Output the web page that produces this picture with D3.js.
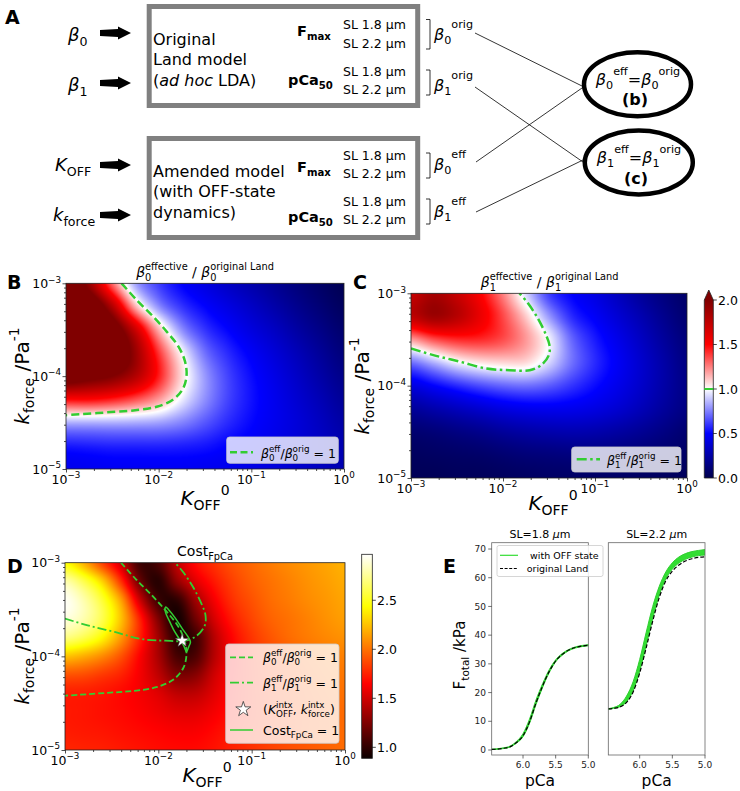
<!DOCTYPE html>
<html><head><meta charset="utf-8">
<script src="https://cdn.jsdelivr.net/npm/d3@7"></script>
<style>
body{margin:0;background:#fff}
svg{display:block}
text{font-family:"DejaVu Sans",sans-serif;white-space:pre}
</style>
</head><body>
<svg id="fig" width="740" height="791"></svg>
<script>
// ---------------- DATA ----------------
// Heatmap grid axes (K_OFF^0 columns, k_force rows from top 1e-3 to bottom 1e-5)
const bcKoff = [0.001, 0.001778, 0.003162, 0.005623, 0.01, 0.01778, 0.03162, 0.05623, 0.1, 0.1778, 0.3162, 0.5623, 1];
const bcKforce = [1e-3, 5.623e-4, 3.162e-4, 1.778e-4, 1e-4, 5.623e-5, 3.162e-5, 1.778e-5, 1e-5];
// B: beta0 effective / beta0 original Land
const beta0Ratio = [
  [2.3, 1.9, 1.3, 0.82, 0.62, 0.5, 0.42, 0.34, 0.27, 0.2, 0.13, 0.07, 0.02],
  [2.5, 2.3, 1.8, 1.15, 0.78, 0.6, 0.5, 0.42, 0.34, 0.26, 0.18, 0.11, 0.05],
  [2.6, 2.5, 2.2, 1.7, 1.15, 0.78, 0.6, 0.5, 0.41, 0.33, 0.24, 0.16, 0.09],
  [2.6, 2.5, 2.3, 1.9, 1.4, 1.0, 0.72, 0.58, 0.48, 0.39, 0.3, 0.21, 0.13],
  [2.2, 2.1, 2.0, 1.8, 1.45, 1.07, 0.8, 0.63, 0.52, 0.43, 0.34, 0.25, 0.17],
  [1.5, 1.5, 1.45, 1.35, 1.2, 0.97, 0.78, 0.63, 0.53, 0.45, 0.37, 0.29, 0.21],
  [0.85, 0.85, 0.85, 0.84, 0.82, 0.76, 0.67, 0.58, 0.51, 0.45, 0.39, 0.32, 0.25],
  [0.55, 0.56, 0.57, 0.57, 0.57, 0.56, 0.54, 0.5, 0.47, 0.43, 0.38, 0.33, 0.28],
  [0.45, 0.46, 0.47, 0.47, 0.47, 0.47, 0.46, 0.45, 0.43, 0.4, 0.36, 0.32, 0.28]
];
// C: beta1 effective / beta1 original Land
const beta1Ratio = [
  [1.72, 1.85, 1.72, 1.52, 1.25, 0.92, 0.62, 0.5, 0.42, 0.32, 0.22, 0.14, 0.08],
  [1.75, 1.88, 1.78, 1.58, 1.36, 1.1, 0.8, 0.58, 0.48, 0.38, 0.28, 0.18, 0.1],
  [1.2, 1.35, 1.42, 1.42, 1.35, 1.2, 0.98, 0.7, 0.55, 0.44, 0.33, 0.22, 0.13],
  [0.72, 0.85, 0.98, 1.05, 1.08, 1.07, 0.92, 0.72, 0.58, 0.47, 0.36, 0.25, 0.15],
  [0.42, 0.5, 0.58, 0.65, 0.7, 0.72, 0.68, 0.6, 0.52, 0.44, 0.35, 0.25, 0.16],
  [0.22, 0.27, 0.32, 0.37, 0.42, 0.45, 0.46, 0.45, 0.42, 0.37, 0.3, 0.22, 0.15],
  [0.1, 0.12, 0.15, 0.18, 0.22, 0.25, 0.27, 0.28, 0.27, 0.24, 0.2, 0.15, 0.1],
  [0.05, 0.06, 0.07, 0.08, 0.1, 0.12, 0.13, 0.14, 0.14, 0.13, 0.11, 0.09, 0.07],
  [0.03, 0.03, 0.04, 0.04, 0.05, 0.06, 0.07, 0.07, 0.07, 0.07, 0.06, 0.05, 0.04]
];
// D: Cost_FpCa grid
const dKoff = [0.001, 0.001585, 0.002512, 0.003981, 0.00631, 0.01, 0.01585, 0.02512, 0.03981, 0.0631, 0.1, 0.1585, 0.2512, 0.3981, 0.631, 1];
const dKforce = [1e-3, 6.31e-4, 3.981e-4, 2.512e-4, 1.585e-4, 1e-4, 6.31e-5, 3.981e-5, 2.512e-5, 1.585e-5, 1e-5];
const costFpCa = [
  [2.45, 2.2, 1.85, 1.5, 1.05, 1.1, 1.45, 1.68, 1.8, 1.9, 1.97, 2.03, 2.08, 2.12, 2.16, 2.2],
  [2.8, 2.6, 2.3, 1.8, 1.2, 0.98, 1.3, 1.55, 1.72, 1.85, 1.94, 2.0, 2.05, 2.1, 2.14, 2.18],
  [2.95, 2.8, 2.55, 2.15, 1.5, 1.05, 1.0, 1.35, 1.62, 1.8, 1.9, 1.98, 2.03, 2.08, 2.12, 2.16],
  [2.9, 2.8, 2.6, 2.25, 1.75, 1.25, 0.92, 1.2, 1.52, 1.73, 1.86, 1.95, 2.0, 2.05, 2.1, 2.14],
  [2.7, 2.6, 2.42, 2.12, 1.75, 1.35, 0.98, 1.05, 1.42, 1.66, 1.81, 1.91, 1.98, 2.03, 2.07, 2.1],
  [2.25, 2.18, 2.07, 1.9, 1.65, 1.38, 1.08, 1.1, 1.42, 1.64, 1.78, 1.87, 1.93, 1.98, 2.02, 2.05],
  [1.9, 1.88, 1.82, 1.75, 1.62, 1.45, 1.25, 1.28, 1.5, 1.66, 1.77, 1.85, 1.9, 1.95, 1.99, 2.02],
  [1.74, 1.73, 1.71, 1.67, 1.62, 1.55, 1.45, 1.45, 1.56, 1.68, 1.77, 1.84, 1.89, 1.93, 1.97, 2.0],
  [1.72, 1.71, 1.69, 1.67, 1.64, 1.6, 1.56, 1.56, 1.62, 1.7, 1.77, 1.83, 1.88, 1.92, 1.95, 1.98],
  [1.73, 1.72, 1.71, 1.69, 1.67, 1.65, 1.63, 1.63, 1.67, 1.73, 1.79, 1.84, 1.88, 1.92, 1.95, 1.98],
  [1.76, 1.75, 1.74, 1.72, 1.7, 1.68, 1.67, 1.67, 1.7, 1.75, 1.8, 1.85, 1.89, 1.92, 1.95, 1.98]
];
// Contours
const beta0Koff = [0.00398, 0.00579, 0.00875, 0.0122, 0.0163, 0.0192, 0.0200, 0.0184, 0.0144, 0.0095, 0.00532, 0.00275, 0.00142, 0.001];
const beta0Kforce = [1e-3, 6.61e-4, 4.37e-4, 3.02e-4, 2.09e-4, 1.45e-4, 1.02e-4, 7.41e-5, 5.62e-5, 4.68e-5, 4.27e-5, 4.07e-5, 3.89e-5, 3.8e-5];
const beta1Koff = [0.001, 0.00175, 0.0034, 0.00661, 0.0118, 0.0195, 0.026, 0.0315, 0.032, 0.0294, 0.0239, 0.0187, 0.0151];
const beta1Kforce = [2.53e-4, 2.14e-4, 1.82e-4, 1.53e-4, 1.47e-4, 1.47e-4, 1.67e-4, 2.14e-4, 2.75e-4, 3.53e-4, 5.36e-4, 7.8e-4, 1e-3];
const costKoff = [0.0120, 0.0129, 0.0152, 0.0179, 0.0207, 0.0221, 0.0212, 0.0200, 0.0187, 0.0166, 0.0146, 0.0132, 0.0122, 0.0118];
const costKforce = [3.37e-4, 3.15e-4, 2.56e-4, 2.0e-4, 1.63e-4, 1.42e-4, 1.27e-4, 1.12e-4, 1.30e-4, 1.56e-4, 1.92e-4, 2.36e-4, 2.78e-4, 3.15e-4];
const starKoff = [0.018];
const starKforce = [1.47e-4];
// Axis ticks
const xMajor = [1e-3, 1e-2, 1e-1, 1];
const xMajorExp = ['\u22123', '\u22122', '\u22121', '0'];
const yMajor = [1e-5, 1e-4, 1e-3];
const yMajorExp = ['\u22125', '\u22124', '\u22123'];
const cbarCTicks = [0, 0.5, 1.0, 1.5, 2.0];
const cbarDTicks = [1.0, 1.5, 2.0, 2.5];
// E: force-pCa
const pCa = [6.48, 6.4, 6.3, 6.2, 6.1, 6.0, 5.9, 5.8, 5.7, 5.6, 5.5, 5.4, 5.3, 5.2, 5.1, 5.0];
const landSL18 = [0.2, 0.3, 0.6, 1.1, 2.6, 5.0, 9.8, 16.5, 22.3, 27.3, 31.0, 33.3, 34.8, 35.7, 36.2, 36.5];
const offHighSL18 = [0.3, 0.4, 0.75, 1.35, 3.0, 5.7, 10.8, 17.5, 23.1, 27.9, 31.4, 33.6, 35.0, 35.9, 36.4, 36.7];
const offLowSL18 = [0.15, 0.25, 0.5, 1.0, 2.4, 4.6, 9.3, 15.9, 21.8, 26.9, 30.7, 33.0, 34.6, 35.5, 36.0, 36.3];
const landSL22 = [14.3, 14.5, 15.0, 16.6, 20.2, 26.8, 35.6, 44.9, 53.1, 58.9, 62.3, 64.4, 65.8, 66.6, 67.1, 67.3];
const offHighSL22 = [14.4, 14.8, 15.9, 18.8, 23.8, 31.5, 41.0, 50.0, 57.0, 62.0, 65.2, 67.2, 68.4, 69.1, 69.5, 69.8];
const offLowSL22 = [14.2, 14.5, 15.1, 16.8, 20.6, 27.4, 36.4, 45.8, 53.9, 59.6, 63.0, 65.1, 66.4, 67.2, 67.7, 67.9];
const eYTicks = [0, 10, 20, 30, 40, 50, 60, 70];
const eXTicks = [6.0, 5.5, 5.0];
const eXTickLabels = ['6.0', '5.5', '5.0'];

// ---------------- HELPERS ----------------
const svg = d3.select('#fig');
svg.append('rect').attr('width', 740).attr('height', 791).attr('fill', '#fff');
const defs = svg.append('defs');
const GREEN = '#32cd32';

function rich(parent, x, y, parts, o = {}) {
  const fs = o.size || 12;
  const subS = (o.sub ?? 0.25) * fs, supS = -(o.sup ?? 0.45) * fs;
  const t = parent.append('text').attr('x', x).attr('y', y)
    .attr('font-size', fs).attr('text-anchor', o.anchor || 'start')
    .attr('fill', o.fill || '#000');
  if (o.weight) t.attr('font-weight', o.weight);
  if (o.rotate) t.attr('transform', `rotate(${o.rotate} ${x} ${y})`);
  let cur = 0, lastSub = null, pending = 0;
  parts.forEach(([txt, fl = '']) => {
    const sub = fl.includes('_'), sup = fl.includes('^');
    const target = sub ? subS : sup ? supS : 0;
    const ts = t.append('tspan').text(txt).attr('dy', target - cur);
    cur = target;
    if (sub || sup) ts.attr('font-size', fs * 0.7);
    if (fl.includes('i')) ts.attr('font-style', 'italic');
    if (fl.includes('b')) ts.attr('font-weight', 'bold');
    let dx = pending; pending = 0;
    if (fl.includes('s') && lastSub) {
      const ls = lastSub.node().getComputedTextLength();
      ts.attr('dx', dx - ls);
      const lp = ts.node().getComputedTextLength();
      if (ls > lp) pending = ls - lp;
    } else if (dx) ts.attr('dx', dx);
    lastSub = sub ? ts : null;
  });
  return t;
}

const seismic = d3.scaleLinear().domain([0, 0.5, 1, 1.5, 2])
  .range(['rgb(0,0,77)', 'rgb(0,0,255)', 'rgb(255,255,255)', 'rgb(255,0,0)', 'rgb(128,0,0)'])
  .clamp(true);
const dMin = 0.888, dMax = 2.969;
const hotStops = [dMin, dMin + 0.365 * (dMax - dMin), dMin + 0.746 * (dMax - dMin), dMax];
const hot = d3.scaleLinear().domain(hotStops)
  .range(['rgb(11,0,0)', 'rgb(255,0,0)', 'rgb(255,255,0)', 'rgb(255,255,255)']).clamp(true);

// Catmull-Rom weights for smooth rendering between grid samples
function cr(p0, p1, p2, p3, t) {
  return 0.5 * ((2 * p1) + (-p0 + p2) * t + (2 * p0 - 5 * p1 + 4 * p2 - p3) * t * t + (-p0 + 3 * p1 - 3 * p2 + p3) * t * t * t);
}
let clipN = 0;
function heat(g, xs, ys, kx, ky, vals, color) {
  const nx = kx.length, ny = ky.length;
  const [x0, x1] = xs.range(); const [yb, yt] = ys.range();
  const W = Math.round(x1 - x0), H = Math.round(yb - yt);
  const cv = document.createElement('canvas'); cv.width = W; cv.height = H;
  const ctx = cv.getContext('2d'); const img = ctx.createImageData(W, H);
  const gx0 = xs(kx[0]), gcw = (xs(kx[nx - 1]) - gx0) / (nx - 1);
  const gy0 = ys(ky[0]), gch = (ys(ky[ny - 1]) - gy0) / (ny - 1);
  const at = (j, i) => vals[Math.max(0, Math.min(ny - 1, j))][Math.max(0, Math.min(nx - 1, i))];
  for (let py = 0; py < H; py++) {
    let v = (yt + py + 0.5 - gy0) / gch; v = Math.max(0, Math.min(ny - 1, v));
    const j = Math.min(ny - 2, Math.floor(v)), tv = v - j;
    for (let px = 0; px < W; px++) {
      let u = (x0 + px + 0.5 - gx0) / gcw; u = Math.max(0, Math.min(nx - 1, u));
      const i = Math.min(nx - 2, Math.floor(u)), tu = u - i;
      const rows = [-1, 0, 1, 2].map(dj => cr(at(j + dj, i - 1), at(j + dj, i), at(j + dj, i + 1), at(j + dj, i + 2), tu));
      const val = cr(rows[0], rows[1], rows[2], rows[3], tv);
      const c = d3.rgb(color(val));
      const k = (py * W + px) * 4;
      img.data[k] = c.r; img.data[k + 1] = c.g; img.data[k + 2] = c.b; img.data[k + 3] = 255;
    }
  }
  ctx.putImageData(img, 0, 0);
  const id = 'clip' + (clipN++);
  defs.append('clipPath').attr('id', id).append('rect')
    .attr('x', x0).attr('y', yt).attr('width', x1 - x0).attr('height', yb - yt);
  g.append('image').attr('href', cv.toDataURL())
    .attr('x', x0).attr('y', yt).attr('width', x1 - x0).attr('height', yb - yt)
    .attr('preserveAspectRatio', 'none');
  return id;
}

function logAxes(g, xs, ys) {
  const [x0, x1] = xs.range(); const [yb, yt] = ys.range();
  const minX = [], minY = [];
  [1e-3, 1e-2, 1e-1].forEach(d => { for (let m = 2; m <= 9; m++) minX.push(d * m); });
  [1e-5, 1e-4].forEach(d => { for (let m = 2; m <= 9; m++) minY.push(d * m); });
  const clean = a => a.call(s => s.select('.domain').remove()).selectAll('line').attr('stroke', '#000').attr('stroke-width', 0.7);
  clean(g.append('g').attr('transform', `translate(0,${yb})`).call(d3.axisBottom(xs).tickValues(minX).tickSize(2).tickFormat('')));
  clean(g.append('g').attr('transform', `translate(0,${yb})`).call(d3.axisBottom(xs).tickValues(xMajor).tickSize(3.5).tickFormat('')));
  clean(g.append('g').attr('transform', `translate(${x0},0)`).call(d3.axisLeft(ys).tickValues(minY).tickSize(2).tickFormat('')));
  clean(g.append('g').attr('transform', `translate(${x0},0)`).call(d3.axisLeft(ys).tickValues(yMajor).tickSize(3.5).tickFormat('')));
  g.append('rect').attr('x', x0).attr('y', yt).attr('width', x1 - x0).attr('height', yb - yt)
    .attr('fill', 'none').attr('stroke', '#222').attr('stroke-width', 0.8);
  xMajor.forEach((v, i) => rich(g, xs(v), yb + 14.5, [['10'], [xMajorExp[i], '^']], { size: 12.5, anchor: 'middle', sup: 0.42 }));
  yMajor.forEach((v, i) => rich(g, x0 - 5, ys(v) + 4.5, [['10'], [yMajorExp[i], '^']], { size: 12.5, anchor: 'end', sup: 0.42 }));
}

function lineOf(xs, ys, kx, ky, curve) {
  return d3.line().x((d, i) => xs(kx[i])).y((d, i) => ys(ky[i])).curve(curve || d3.curveCatmullRom)(kx);
}

const ratioLegend = (n) => [['\u03b2', 'i'], [n, '_'], ['eff', '^s'], ['/'], ['\u03b2', 'i'], [n, '_'], ['orig', '^s'], [' = 1']];
const kLabel = [['k', 'i'], ['force', '_'], [' /Pa'], ['-1', '^']];
const KLabel = [['K', 'i'], ['OFF', '_'], ['0', '^']];

function legendBox(g, x, y, w, h) {
  g.append('rect').attr('x', x).attr('y', y).attr('width', w).attr('height', h).attr('rx', 3)
    .attr('fill', '#fff').attr('fill-opacity', 0.8).attr('stroke', '#ccc').attr('stroke-width', 0.8);
}

// ---------------- PANEL A ----------------
const gA = svg.append('g');
rich(gA, 5, 24, [['A']], { size: 19, weight: 'bold' });
function arrow(y) {
  gA.append('path').attr('d', `M100,${y - 3} L118,${y - 4} L118,${y - 6.5} L131,${y} L118,${y + 6.5} L118,${y + 4} L100,${y + 3} Z`).attr('fill', '#000');
}
rich(gA, 68, 41, [['\u03b2', 'i'], ['0', '_']], { size: 18 }); arrow(33);
rich(gA, 68, 91, [['\u03b2', 'i'], ['1', '_']], { size: 18 }); arrow(83);
rich(gA, 55, 171, [['K', 'i'], ['OFF', '_']], { size: 18 }); arrow(165);
rich(gA, 53, 221, [['k', 'i'], ['force', '_']], { size: 18 }); arrow(215);
[6.5, 138.5].forEach(y => gA.append('rect').attr('x', 149.2).attr('y', y).attr('width', 268.5).attr('height', 99)
  .attr('fill', 'none').attr('stroke', '#808080').attr('stroke-width', 5));
rich(gA, 153, 45, [['Original']], { size: 16 });
rich(gA, 153, 65, [['Land model']], { size: 16 });
rich(gA, 153, 86, [['('], ['ad hoc', 'i'], [' LDA)']], { size: 16 });
rich(gA, 153, 177, [['Amended model']], { size: 16 });
rich(gA, 153, 197, [['(with OFF-state']], { size: 16 });
rich(gA, 153, 218, [['dynamics)']], { size: 16 });
rich(gA, 297, 36, [['F', 'b'], ['max', '_b']], { size: 14.5 });
rich(gA, 288, 85, [['pCa', 'b'], ['50', '_b']], { size: 14.5 });
rich(gA, 297, 172, [['F', 'b'], ['max', '_b']], { size: 14.5 });
rich(gA, 288, 222, [['pCa', 'b'], ['50', '_b']], { size: 14.5 });
[29, 47.5, 76, 94, 160, 178, 206, 224].forEach((y, i) =>
  rich(gA, 343, y, [[i % 2 ? 'SL 2.2 \u00b5m' : 'SL 1.8 \u00b5m']], { size: 12.5 }));
const brackets = [[19.5, 49], [70, 95], [153, 178], [199, 224]];
brackets.forEach(([a, b]) => gA.append('path').attr('d', `M426,${a} H430 V${b} H426`).attr('fill', 'none').attr('stroke', '#000').attr('stroke-width', 0.8));
const brLabels = [['0', 'orig', 40], ['1', 'orig', 91], ['0', 'eff', 170], ['1', 'eff', 217]];
brLabels.forEach(([n, s, y]) => rich(gA, 434, y, [['\u03b2', 'i'], [n, '_'], [s, '^']], { size: 16, sup: 0.72, sub: 0.22 }));
const links = [[475, 33, 582, 86], [475, 87, 583, 162], [476, 162, 582, 88], [476, 212, 583, 160]];
links.forEach(([a, b, c, d]) => gA.append('line').attr('x1', a).attr('y1', b).attr('x2', c).attr('y2', d).attr('stroke', '#000').attr('stroke-width', 0.8));
gA.append('ellipse').attr('cx', 637.5).attr('cy', 84.2).attr('rx', 53.5).attr('ry', 32).attr('fill', '#fff').attr('stroke', '#000').attr('stroke-width', 4.5);
gA.append('ellipse').attr('cx', 638.8).attr('cy', 162.4).attr('rx', 54).attr('ry', 32).attr('fill', '#fff').attr('stroke', '#000').attr('stroke-width', 4.5);
rich(gA, 638, 85, [['\u03b2', 'i'], ['0', '_'], ['eff', '^'], ['='], ['\u03b2', 'i'], ['0', '_'], ['orig', '^']], { size: 16, anchor: 'middle', sup: 0.6, sub: 0.22 });
rich(gA, 635, 105, [['(b)']], { size: 16, anchor: 'middle', weight: 'bold' });
rich(gA, 639, 163, [['\u03b2', 'i'], ['1', '_'], ['eff', '^'], ['='], ['\u03b2', 'i'], ['1', '_'], ['orig', '^']], { size: 16, anchor: 'middle', sup: 0.6, sub: 0.22 });
rich(gA, 636, 184, [['(c)']], { size: 16, anchor: 'middle', weight: 'bold' });

// ---------------- PANEL B ----------------
const gB = svg.append('g');
const xB = d3.scaleLog().domain([1e-3, 1]).range([66, 344]);
const yB = d3.scaleLog().domain([1e-5, 1e-3]).range([469, 283.3]);
const clipB = heat(gB, xB, yB, bcKoff, bcKforce, beta0Ratio, seismic);
gB.append('path').attr('d', lineOf(xB, yB, beta0Koff, beta0Kforce)).attr('clip-path', `url(#${clipB})`)
  .attr('fill', 'none').attr('stroke', GREEN).attr('stroke-width', 2.5).attr('stroke-dasharray', '8,4');
logAxes(gB, xB, yB);
rich(gB, 205, 277, [['\u03b2', 'i'], ['0', '_'], ['effective', '^s'], [' / '], ['\u03b2', 'i'], ['0', '_'], ['original Land', '^s']], { size: 14, anchor: 'middle', sup: 0.5 });
rich(gB, 7, 289, [['B']], { size: 19, weight: 'bold' });
rich(gB, 29, 376, kLabel, { size: 20, anchor: 'middle', rotate: -90, sup: 0.5 });
rich(gB, 205, 505, KLabel, { size: 20, anchor: 'middle', sup: 0.5 });
legendBox(gB, 226.7, 437, 111.6, 26.3);
gB.append('line').attr('x1', 230).attr('x2', 253).attr('y1', 452.3).attr('y2', 452.3).attr('stroke', GREEN).attr('stroke-width', 2.5).attr('stroke-dasharray', '7,3.5');
rich(gB, 261, 458, ratioLegend('0'), { size: 12.5, sup: 0.45 });

// ---------------- PANEL C ----------------
const gC = svg.append('g');
const xC = d3.scaleLog().domain([1e-3, 1]).range([411, 687]);
const yC = d3.scaleLog().domain([1e-5, 1e-3]).range([478, 293.3]);
const clipC = heat(gC, xC, yC, bcKoff, bcKforce, beta1Ratio, seismic);
gC.append('path').attr('d', lineOf(xC, yC, beta1Koff, beta1Kforce)).attr('clip-path', `url(#${clipC})`)
  .attr('fill', 'none').attr('stroke', GREEN).attr('stroke-width', 2.5).attr('stroke-dasharray', '10,3.5,2.5,3.5');
logAxes(gC, xC, yC);
rich(gC, 549.7, 287, [['\u03b2', 'i'], ['1', '_'], ['effective', '^s'], [' / '], ['\u03b2', 'i'], ['1', '_'], ['original Land', '^s']], { size: 14, anchor: 'middle', sup: 0.5 });
rich(gC, 353, 289, [['C']], { size: 19, weight: 'bold' });
rich(gC, 369, 386, kLabel, { size: 20, anchor: 'middle', rotate: -90, sup: 0.5 });
rich(gC, 553, 510, KLabel, { size: 20, anchor: 'middle', sup: 0.5 });
legendBox(gC, 571.7, 447, 109.3, 25);
gC.append('line').attr('x1', 576.7).attr('x2', 600).attr('y1', 459.3).attr('y2', 459.3).attr('stroke', GREEN).attr('stroke-width', 2.5).attr('stroke-dasharray', '10,3.5,2.5,3.5');
rich(gC, 607, 465, ratioLegend('1'), { size: 12.5, sup: 0.45 });
// colorbar C
const cbC = d3.scaleLinear().domain([0, 2]).range([478, 300]);
const gradC = defs.append('linearGradient').attr('id', 'gradC').attr('x1', 0).attr('y1', 1).attr('x2', 0).attr('y2', 0);
seismic.domain().forEach(v => gradC.append('stop').attr('offset', v / 2).attr('stop-color', seismic(v)));
gC.append('rect').attr('x', 704.3).attr('y', cbC(2)).attr('width', 9).attr('height', cbC(0) - cbC(2)).attr('fill', 'url(#gradC)');
gC.append('path').attr('d', `M704.3,${cbC(2)} L708.8,290 L713.3,${cbC(2)} Z`).attr('fill', seismic(2));
gC.append('path').attr('d', `M704.3,${cbC(2)} L708.8,290 L713.3,${cbC(2)} L713.3,${cbC(0)} L704.3,${cbC(0)} Z`).attr('fill', 'none').attr('stroke', '#222').attr('stroke-width', 0.8);
gC.append('line').attr('x1', 704.3).attr('x2', 713.3).attr('y1', cbC(1)).attr('y2', cbC(1)).attr('stroke', GREEN).attr('stroke-width', 2);
cbarCTicks.forEach(v => {
  gC.append('line').attr('x1', 713.3).attr('x2', 716.8).attr('y1', cbC(v)).attr('y2', cbC(v)).attr('stroke', '#000').attr('stroke-width', 0.7);
  rich(gC, 718, cbC(v) + 4.5, [[v.toFixed(1)]], { size: 12.5 });
});

// ---------------- PANEL D ----------------
const gD = svg.append('g');
const xD = d3.scaleLog().domain([1e-3, 1]).range([65, 345]);
const yD = d3.scaleLog().domain([1e-5, 1e-3]).range([750, 562.7]);
const clipD = heat(gD, xD, yD, dKoff, dKforce, costFpCa, hot);
const gDl = gD.append('g').attr('clip-path', `url(#${clipD})`);
gDl.append('path').attr('d', lineOf(xD, yD, beta0Koff, beta0Kforce)).attr('fill', 'none').attr('stroke', GREEN).attr('stroke-width', 1.8).attr('stroke-dasharray', '6,3');
gDl.append('path').attr('d', lineOf(xD, yD, beta1Koff, beta1Kforce)).attr('fill', 'none').attr('stroke', GREEN).attr('stroke-width', 1.8).attr('stroke-dasharray', '9,3,2,3');
gDl.append('path').attr('d', lineOf(xD, yD, costKoff, costKforce, d3.curveCatmullRomClosed)).attr('fill', 'none').attr('stroke', GREEN).attr('stroke-width', 1.5);
const star = d3.symbol().type(d3.symbolStar).size(55);
starKoff.forEach((k, i) => gDl.append('path').attr('d', star()).attr('transform', `translate(${xD(k)},${yD(starKforce[i])})`)
  .attr('fill', '#fff').attr('stroke', '#555').attr('stroke-width', 0.5));
logAxes(gD, xD, yD);
rich(gD, 205, 556, [['Cost'], ['FpCa', '_']], { size: 14, anchor: 'middle' });
rich(gD, 7, 573, [['D']], { size: 19, weight: 'bold' });
rich(gD, 29, 656, kLabel, { size: 20, anchor: 'middle', rotate: -90, sup: 0.5 });
rich(gD, 207, 782, KLabel, { size: 20, anchor: 'middle', sup: 0.5 });
legendBox(gD, 225.7, 644, 113.3, 99.3);
gD.append('line').attr('x1', 230).attr('x2', 253).attr('y1', 657.3).attr('y2', 657.3).attr('stroke', GREEN).attr('stroke-width', 1.8).attr('stroke-dasharray', '6,3');
rich(gD, 263, 662, ratioLegend('0'), { size: 12.5, sup: 0.45 });
gD.append('line').attr('x1', 230).attr('x2', 253).attr('y1', 682.7).attr('y2', 682.7).attr('stroke', GREEN).attr('stroke-width', 1.8).attr('stroke-dasharray', '9,3,2,3');
rich(gD, 263, 687.5, ratioLegend('1'), { size: 12.5, sup: 0.45 });
gD.append('path').attr('d', d3.symbol().type(d3.symbolStar).size(70)()).attr('transform', 'translate(243.3,709.3)')
  .attr('fill', '#fff').attr('stroke', '#333').attr('stroke-width', 0.8);
rich(gD, 263, 713.5, [['('], ['K', 'i'], ['OFF', '_'], ['intx', '^s'], [', '], ['k', 'i'], ['force', '_'], ['intx', '^s'], [')']], { size: 12.5, sup: 0.45 });
gD.append('line').attr('x1', 230).attr('x2', 253).attr('y1', 730).attr('y2', 730).attr('stroke', GREEN).attr('stroke-width', 1.5);
rich(gD, 263, 734.5, [['Cost'], ['FpCa', '_'], [' = 1']], { size: 12.5 });
// colorbar D
const cbD = d3.scaleLinear().domain([dMin, dMax]).range([758.3, 554.3]);
const gradD = defs.append('linearGradient').attr('id', 'gradD').attr('x1', 0).attr('y1', 1).attr('x2', 0).attr('y2', 0);
hotStops.forEach(v => gradD.append('stop').attr('offset', (v - dMin) / (dMax - dMin)).attr('stop-color', hot(v)));
gD.append('rect').attr('x', 361.7).attr('y', 554.3).attr('width', 10.6).attr('height', 204).attr('fill', 'url(#gradD)')
  .attr('stroke', '#222').attr('stroke-width', 0.8);
cbarDTicks.forEach(v => {
  gD.append('line').attr('x1', 372.3).attr('x2', 375.8).attr('y1', cbD(v)).attr('y2', cbD(v)).attr('stroke', '#000').attr('stroke-width', 0.7);
  rich(gD, 377, cbD(v) + 4.5, [[v.toFixed(1)]], { size: 12.5 });
});

// ---------------- PANEL E ----------------
const gE = svg.append('g');
const yE = d3.scaleLinear().domain([-1.74, 72.2]).range([755, 542.7]);
const xE1 = d3.scaleLinear().domain([6.48, 5.0]).range([491.7, 588.3]);
const xE2 = d3.scaleLinear().domain([6.48, 5.0]).range([608.3, 705]);
function ePanel(xs, land, lo, hi, title) {
  const [x0, x1] = xs.range();
  const area = d3.area().x((d, i) => xs(pCa[i])).y0((d, i) => yE(lo[i])).y1((d, i) => yE(hi[i])).curve(d3.curveMonotoneX);
  gE.append('path').attr('d', area(pCa)).attr('fill', '#33dd33').attr('stroke', 'none');
  [lo, hi].forEach(arr => gE.append('path').attr('d', d3.line().x((d, i) => xs(pCa[i])).y((d, i) => yE(arr[i])).curve(d3.curveMonotoneX)(pCa))
    .attr('fill', 'none').attr('stroke', '#2fcf2f').attr('stroke-width', 1));
  gE.append('path').attr('d', d3.line().x((d, i) => xs(pCa[i])).y((d, i) => yE(land[i])).curve(d3.curveMonotoneX)(pCa))
    .attr('fill', 'none').attr('stroke', '#000').attr('stroke-width', 1.2).attr('stroke-dasharray', '4,2');
  gE.append('rect').attr('x', x0).attr('y', 542.7).attr('width', x1 - x0).attr('height', 755 - 542.7)
    .attr('fill', 'none').attr('stroke', '#666').attr('stroke-width', 0.8);
  eXTicks.forEach((v, i) => {
    gE.append('line').attr('x1', xs(v)).attr('x2', xs(v)).attr('y1', 755).attr('y2', 758.5).attr('stroke', '#333').attr('stroke-width', 0.7);
    rich(gE, xs(v), 768, [[eXTickLabels[i]]], { size: 9, anchor: 'middle', fill: '#222' });
  });
  rich(gE, (x0 + x1) / 2, 538, title, { size: 11, anchor: 'middle' });
  rich(gE, (x0 + x1) / 2, 786, [['pCa']], { size: 15.5, anchor: 'middle' });
}
ePanel(xE1, landSL18, offLowSL18, offHighSL18, [['SL=1.8 '], ['\u03bc', 'i'], ['m']]);
ePanel(xE2, landSL22, offLowSL22, offHighSL22, [['SL=2.2 '], ['\u03bc', 'i'], ['m']]);
eYTicks.forEach(v => {
  gE.append('line').attr('x1', 491.7).attr('x2', 488.2).attr('y1', yE(v)).attr('y2', yE(v)).attr('stroke', '#333').attr('stroke-width', 0.7);
  rich(gE, 486, yE(v) + 3.2, [[String(v)]], { size: 9, anchor: 'end', fill: '#222' });
});
rich(gE, 465, 655, [['F'], ['total', '_'], [' /kPa']], { size: 15, anchor: 'middle', rotate: -90 });
rich(gE, 443, 573, [['E']], { size: 19, weight: 'bold' });
// legend E
gE.append('rect').attr('x', 497).attr('y', 545.5).attr('width', 106).attr('height', 31).attr('rx', 2)
  .attr('fill', '#fff').attr('fill-opacity', 0.85).attr('stroke', '#ccc').attr('stroke-width', 0.8);
gE.append('line').attr('x1', 500).attr('x2', 518).attr('y1', 555.3).attr('y2', 555.3).attr('stroke', '#33dd33').attr('stroke-width', 1.2);
rich(gE, 527, 559, [[' with OFF state']], { size: 9.5 });
gE.append('line').attr('x1', 500).attr('x2', 518).attr('y1', 568.5).attr('y2', 568.5).attr('stroke', '#000').attr('stroke-width', 1.1).attr('stroke-dasharray', '3,1.6');
rich(gE, 526.7, 572, [['original Land']], { size: 9.5 });
</script>
</body></html>
